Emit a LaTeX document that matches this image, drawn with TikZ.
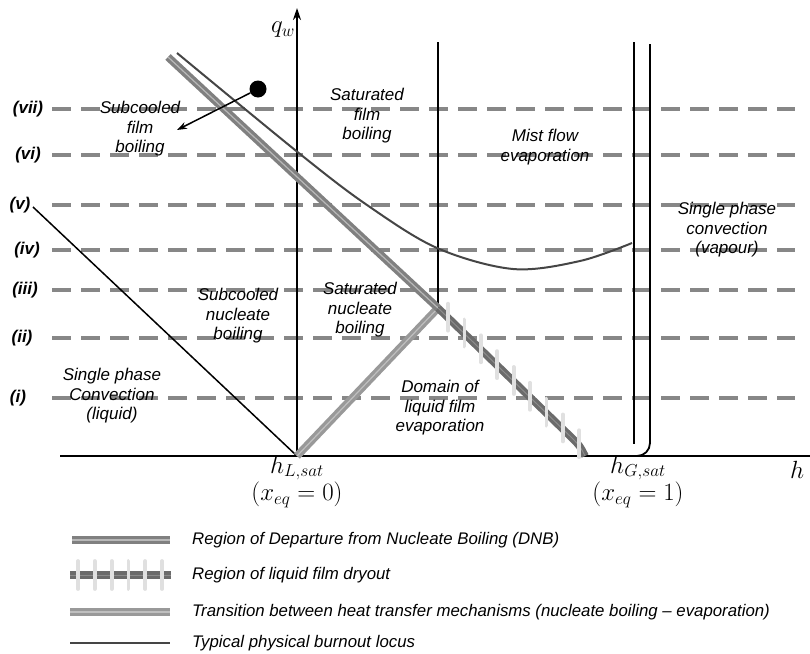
\documentclass[tikz,border=0pt]{standalone}
\usepackage{fontspec}
\setmainfont{Liberation Sans}
\usetikzlibrary{arrows.meta}
\begin{document}
\begin{tikzpicture}[x=1pt,y=-1pt,
  region/.style={font=\itshape\fontsize{17}{19.5}\selectfont, align=center, inner sep=0},
  level/.style={font=\bfseries\itshape\fontsize{17}{19}\selectfont, inner sep=0},
  levelline/.style={draw=dashgray, line width=3.5, dash pattern=on 19 off 10},
  mathlbl/.style={font=\fontsize{24}{28}\selectfont, inner sep=0},
  dnbband/.style={draw=dnbgray, double=dnblight, line width=3.3, double distance=1.2},
  transband/.style={draw=transgray, double=translight, line width=3.3, double distance=1.2},
  dryband/.style={draw=drygray, double=drylight, line width=3.3, double distance=1},
  drytick/.style={draw=tickgray, line width=3.8, line cap=round},
  locus/.style={draw=locusgray, line width=2},
  legendtext/.style={font=\itshape\fontsize{16.8}{19}\selectfont, anchor=west, inner sep=0}]
\definecolor{dashgray}{gray}{0.53}
\definecolor{dnbgray}{gray}{0.5}
\definecolor{dnblight}{gray}{0.72}
\definecolor{transgray}{gray}{0.6}
\definecolor{translight}{gray}{0.75}
\definecolor{drygray}{gray}{0.42}
\definecolor{drylight}{gray}{0.55}
\definecolor{tickgray}{gray}{0.88}
\definecolor{locusgray}{gray}{0.27}
\useasboundingbox (0,0) rectangle (810,653);
% key points
\coordinate (O) at (297,456);
\coordinate (qtop) at (297,8);
\coordinate (hstart) at (60,456);
\coordinate (hend) at (810,456);
\coordinate (crit) at (438,308);
\coordinate (dnbtop) at (168,57);
\coordinate (dryend) at (585,456);
\coordinate (vstart) at (33,207);
% levels (i)...(vii)
\foreach \lab/\y/\lx in {vii/109/28, vi/155/28, v/205/20, iv/250/27, iii/290/25, ii/338/22, i/398/18}
{
  \node[level] (lev-\lab) at (\lx,\y) {(\lab)};
  \draw[levelline] (52,\y) -- (795,\y);
}
% axes and boundaries
\draw[line width=2] (hstart) -- (hend);
\draw[line width=2, -{Stealth[length=12,width=8]}] (O) -- (qtop);
\draw[line width=1.8] (438,42) -- (crit);
\draw[line width=1.8] (634,42) -- (634,444);
\draw[line width=1.8, rounded corners=13] (650,44) -- (650,456) -- (637,456);
\draw[line width=1.5] (vstart) -- (O);
% transition, DNB and dryout
\draw[transband] (O) -- (crit);
\draw[dnbband] (dnbtop) -- (crit);
\draw[dryband] (crit) -- (571,437) .. controls (580,446) .. (dryend);
\foreach \i in {0,...,8}
{
  \pgfmathsetmacro\tx{448+16.4*\i}
  \pgfmathsetmacro\ty{308+(\tx-438)*0.965}
  \draw[drytick] (\tx,\ty-14) -- (\tx,\ty+13);
}
% burnout locus
\draw[locus] plot[smooth, tension=0.55] coordinates {(177,53) (300,154) (367,205) (437,248) (513,269) (580,261) (632,243)};
\node[circle, fill=black, inner sep=0, minimum size=17] (spot) at (258,89) {};
\coordinate (spottip) at (177,130);
\draw[line width=1.5, -{Stealth[length=10,width=7]}] (spot) -- (spottip);
% regions
\node[region] (subfilm) at (140,129) {Subcooled\\film\\boiling};
\node[region] (satfilm) at (367,116) {Saturated\\film\\boiling};
\node[region] (mist) at (545,147) {Mist flow\\evaporation};
\node[region] (vapour) at (727,230) {Single phase\\convection\\(vapour)};
\node[region] (subnuc) at (238,316) {Subcooled\\nucleate\\boiling};
\node[region] (satnuc) at (360,310) {Saturated\\nucleate\\boiling};
\node[region] (liquid) at (112,396) {Single phase\\Convection\\(liquid)};
\node[region] (domain) at (440,408) {Domain of\\liquid film\\evaporation};
% axis labels
\node[mathlbl] (qw) at (283,30) {$q_w$};
\node[mathlbl] (hlab) at (797,470) {$h$};
\node[mathlbl] (hL) at (297,468) {$h_{L,sat}$};
\node[mathlbl] (xL) at (297,495) {$\biggl(x_{eq}=0\biggr)$};
\node[mathlbl] (hG) at (638,468) {$h_{G,sat}$};
\node[mathlbl] (xG) at (638,495) {$\biggl(x_{eq}=1\biggr)$};
% legend
\draw[dnbband] (72,540) -- (170,540);
\node[legendtext] (leg1) at (192,540) {Region of Departure from Nucleate Boiling (DNB)};
\draw[dryband] (70,575) -- (171,575);
\foreach \i in {0,...,5}
  \draw[drytick] (78+16.8*\i,561) -- (78+16.8*\i,589);
\node[legendtext] (leg2) at (192,575) {Region of liquid film dryout};
\draw[transband] (70,612) -- (170,612);
\node[legendtext] (leg3) at (192,612) {Transition between heat transfer mechanisms (nucleate boiling -- evaporation)};
\draw[locus] (70,643) -- (170,643);
\node[legendtext] (leg4) at (192,643) {Typical physical burnout locus};
\end{tikzpicture}
\end{document}
